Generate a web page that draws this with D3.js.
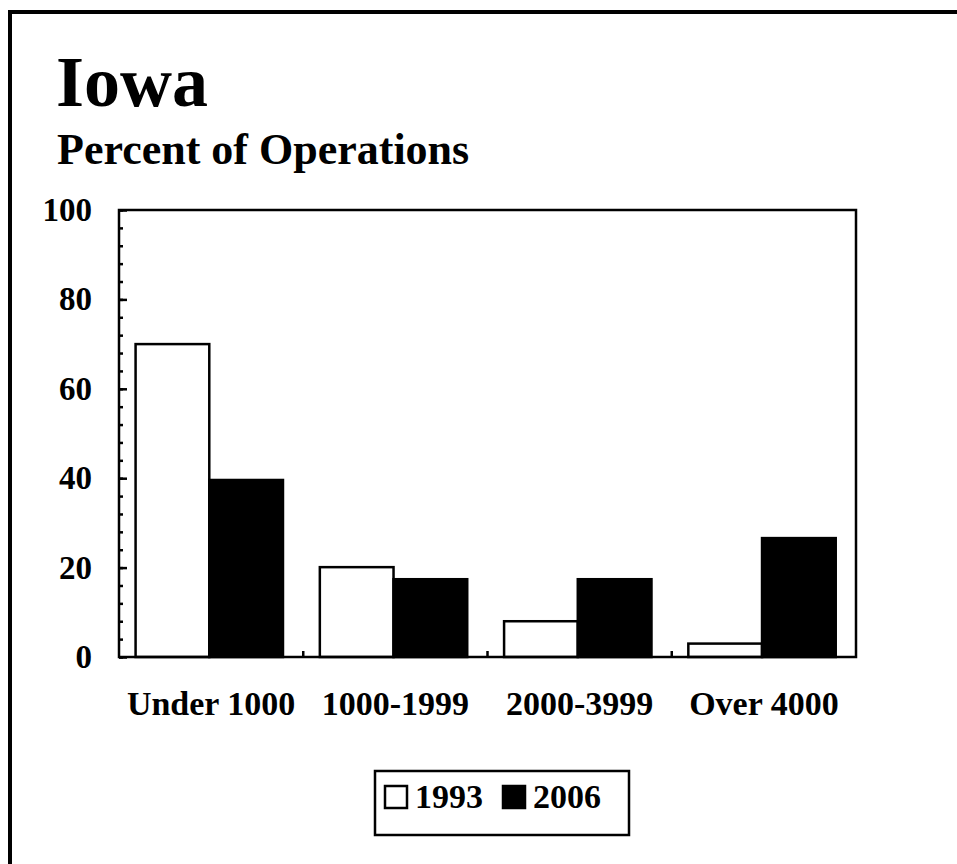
<!DOCTYPE html>
<html>
<head>
<meta charset="utf-8">
<script src="https://cdn.jsdelivr.net/npm/d3@7.9.0/dist/d3.min.js"></script>
<style>
  body { margin: 0; background: #fff; }
  svg { display: block; font-family: "Liberation Serif", "Times New Roman", serif; font-weight: bold; }
</style>
</head>
<body>
<svg id="chart" width="957" height="864"></svg>
<script>
// data
const categories = ['Under 1000', '1000-1999', '2000-3999', 'Over 4000'];
const years = ['1993', '2006'];
const values1993 = [70, 20.1, 8, 3];
const values2006 = [39.6, 17.4, 17.4, 26.6];
const yTicks = [0, 20, 40, 60, 80, 100];
const yMinorTicks = d3.range(0, 101, 4);

const fills = { '1993': '#fff', '2006': '#000' };
const series = { '1993': values1993, '2006': values2006 };

const svg = d3.select('#chart');

// outer frame (runs off the right and bottom edges)
svg.append('rect')
    .attr('x', 10).attr('y', 12)
    .attr('width', 1000).attr('height', 1000)
    .attr('fill', 'none').attr('stroke', '#000').attr('stroke-width', 4);

svg.append('text')
    .attr('x', 56).attr('y', 106)
    .style('font-size', '72px')
    .text('Iowa');

svg.append('text')
    .attr('x', 57).attr('y', 164)
    .style('font-size', '44px')
    .text('Percent of Operations');

const plotL = 119, plotR = 856, plotT = 210, plotB = 657;

const x0 = d3.scaleBand().domain(categories).range([plotL, plotR]);
const x1 = d3.scaleBand().domain(years)
    .range([x0.bandwidth() * 0.09, x0.bandwidth() * 0.89]);
const y = d3.scaleLinear().domain([0, 100]).range([plotB, plotT]);

// bars
categories.forEach((cat, i) => {
    years.forEach((yr) => {
        const v = series[yr][i];
        svg.append('rect')
            .attr('x', x0(cat) + x1(yr))
            .attr('y', y(v))
            .attr('width', x1.bandwidth())
            .attr('height', y(0) - y(v))
            .attr('fill', fills[yr])
            .attr('stroke', '#000')
            .attr('stroke-width', 2.5);
    });
});

// plot frame
svg.append('rect')
    .attr('x', plotL).attr('y', plotT)
    .attr('width', plotR - plotL).attr('height', plotB - plotT)
    .attr('fill', 'none').attr('stroke', '#000').attr('stroke-width', 2.5);

// y axis: minor ticks, then major ticks with labels
svg.append('g')
    .attr('transform', `translate(${plotL},0)`)
    .call(d3.axisLeft(y).tickValues(yMinorTicks).tickSize(-4).tickFormat(''))
    .call(g => g.select('.domain').remove())
    .selectAll('line').attr('stroke-width', 2.5);

const yAxis = svg.append('g')
    .attr('transform', `translate(${plotL},0)`)
    .call(d3.axisLeft(y).tickValues(yTicks).tickSize(-8).tickPadding(27));
yAxis.select('.domain').remove();
yAxis.selectAll('line').attr('stroke-width', 2.5);
yAxis.selectAll('text')
    .style('font-size', '33px')
    .style('font-family', '"Liberation Serif", serif')
    .style('font-weight', 'bold')
    .attr('fill', '#000');

// category separators on the x axis
categories.slice(1).forEach((cat) => {
    svg.append('line')
        .attr('x1', x0(cat)).attr('x2', x0(cat))
        .attr('y1', plotB).attr('y2', plotB - 6)
        .attr('stroke', '#000').attr('stroke-width', 2.5);
});

const xAxis = svg.append('g')
    .attr('transform', `translate(0,${plotB})`)
    .call(d3.axisBottom(x0).tickSize(0).tickPadding(34));
xAxis.select('.domain').remove();
xAxis.selectAll('text')
    .style('font-size', '34px')
    .style('font-family', '"Liberation Serif", serif')
    .style('font-weight', 'bold')
    .attr('fill', '#000');

// legend
const legend = svg.append('g');
legend.append('rect')
    .attr('x', 375).attr('y', 771)
    .attr('width', 254).attr('height', 64)
    .attr('fill', '#fff').attr('stroke', '#000').attr('stroke-width', 2.5);

const legendX = { '1993': 385, '2006': 503 };
years.forEach((yr) => {
    legend.append('rect')
        .attr('x', legendX[yr]).attr('y', 786)
        .attr('width', 22).attr('height', 22)
        .attr('fill', fills[yr]).attr('stroke', '#000').attr('stroke-width', 2.5);
    legend.append('text')
        .attr('x', legendX[yr] + 30).attr('y', 808)
        .style('font-size', '34px')
        .text(yr);
});
</script>
</body>
</html>
